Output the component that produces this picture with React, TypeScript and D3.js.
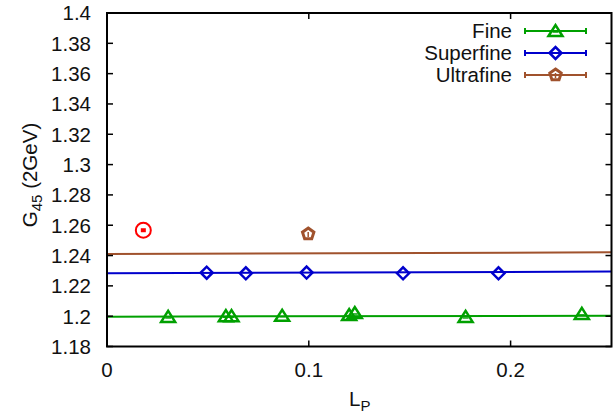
import React from "react";
import * as d3 from "d3";

const fineX = [0.0303, 0.0589, 0.0617, 0.0868, 0.12, 0.1228, 0.1777, 0.2353];
const fineY = [1.1995, 1.2, 1.2, 1.2003, 1.2008, 1.2021, 1.1995, 1.2015];
const superX = [0.0494, 0.0688, 0.0989, 0.1467, 0.194];
const superY = [1.2287, 1.2283, 1.2288, 1.2283, 1.2283];
const ultraX = [0.0997];
const ultraY = [1.2542];
const extrapX = [0.018];
const extrapY = [1.2567];
const fitFine = [1.1997, 1.2003];
const fitSuper = [1.2283, 1.2294];
const fitUltra = [1.2411, 1.2421];
const yTicks = [1.18, 1.2, 1.22, 1.24, 1.26, 1.28, 1.3, 1.32, 1.34, 1.36, 1.38, 1.4];
const xTicks = [0, 0.1, 0.2];
const legendLabels = ["Fine", "Superfine", "Ultrafine"];

const GREEN = "#00a000";
const BLUE = "#0000cc";
const BROWN = "#a0522d";
const RED = "#ff0000";

export default function App() {
  const W = 613, H = 415;
  const L = 107, R = 611.5, T = 13, B = 346.5;
  const x = d3.scaleLinear().domain([0, 0.25]).range([L, R]);
  const y = d3.scaleLinear().domain([1.18, 1.4]).range([B, T]);
  const font = "Liberation Sans, Arial, sans-serif";
  const fs = 20.5;

  const line = d3.line<[number, number]>().x(d => x(d[0])).y(d => y(d[1]));

  const tri = (cx: number, cy: number, c: string, k: string) => (
    <g key={k}>
      <path d={`M${cx - 7},${cy + 5}L${cx},${cy - 6}L${cx + 7},${cy + 5}Z`} fill="none" stroke={c} strokeWidth={2.5} />
      <line x1={cx - 3} x2={cx + 3} y1={cy + 1} y2={cy + 1} stroke={c} strokeWidth={1.5} />
    </g>
  );
  const dia = (cx: number, cy: number, c: string, k: string) => (
    <g key={k}>
      <path d={`M${cx - 6},${cy}L${cx},${cy - 6}L${cx + 6},${cy}L${cx},${cy + 6}Z`} fill="none" stroke={c} strokeWidth={2.5} />
    </g>
  );
  const pent = (cx: number, cy: number, c: string, k: string) => {
    const pts = d3.range(5).map(i => {
      const a = -Math.PI / 2 + (i * 2 * Math.PI) / 5;
      return [cx + 6 * Math.cos(a), cy + 6 * Math.sin(a)];
    });
    return (
      <g key={k}>
        <path d={"M" + pts.map(p => p.join(",")).join("L") + "Z"} fill="none" stroke={c} strokeWidth={3} />
        <line x1={cx} x2={cx} y1={cy - 2} y2={cy + 3} stroke={c} strokeWidth={1.5} />
      </g>
    );
  };

  const legendY = [31, 53, 75];
  const legendMarkers = [tri, dia, pent];
  const legendColors = [GREEN, BLUE, BROWN];

  return (
    <svg width={W} height={H} style={{ position: "absolute", left: 0, top: 0 }} fontFamily={font}>
      <rect width={W} height={H} fill="white" />
      <path d={line([[0, fitUltra[0]], [0.25, fitUltra[1]]])!} stroke={BROWN} strokeWidth={2} fill="none" />
      <path d={line([[0, fitSuper[0]], [0.25, fitSuper[1]]])!} stroke={BLUE} strokeWidth={2} fill="none" />
      <path d={line([[0, fitFine[0]], [0.25, fitFine[1]]])!} stroke={GREEN} strokeWidth={2} fill="none" />
      {fineX.map((v, i) => tri(x(v), y(fineY[i]), GREEN, "f" + i))}
      {superX.map((v, i) => dia(x(v), y(superY[i]), BLUE, "s" + i))}
      {ultraX.map((v, i) => pent(x(v), y(ultraY[i]), BROWN, "u" + i))}
      {extrapX.map((v, i) => (
        <g key={"e" + i}>
          <circle cx={x(v)} cy={y(extrapY[i])} r={7.5} fill="none" stroke={RED} strokeWidth={2} />
          <rect x={x(v) - 2.5} y={y(extrapY[i]) - 2} width={5} height={4} fill={RED} />
        </g>
      ))}
      <rect x={L} y={T} width={R - L} height={B - T} fill="none" stroke="black" strokeWidth={2} />
      {yTicks.map(t => (
        <g key={"y" + t}>
          <line x1={L} x2={L + 6} y1={y(t)} y2={y(t)} stroke="black" strokeWidth={1.5} />
          <line x1={R} x2={R - 6} y1={y(t)} y2={y(t)} stroke="black" strokeWidth={1.5} />
          <text x={91} y={y(t)} dy="0.36em" textAnchor="end" fontSize={fs} fill="#111">{String(t)}</text>
        </g>
      ))}
      {xTicks.map(t => (
        <g key={"x" + t}>
          <line x1={x(t)} x2={x(t)} y1={B} y2={B - 6} stroke="black" strokeWidth={1.5} />
          <line x1={x(t)} x2={x(t)} y1={T} y2={T + 6} stroke="black" strokeWidth={1.5} />
          <text x={x(t)} y={370} dy="0.36em" textAnchor="middle" fontSize={fs} fill="#111">{String(t)}</text>
        </g>
      ))}
      <text transform="translate(37,175) rotate(-90)" textAnchor="middle" fontSize={fs} fill="#111">
        G<tspan fontSize={15} dy={5}>45</tspan><tspan dy={-5}> (2GeV)</tspan>
      </text>
      <text x={349} y={406} fontSize={fs} fill="#111">
        L<tspan fontSize={15} dy={5}>P</tspan>
      </text>
      {legendLabels.map((lab, i) => (
        <g key={lab}>
          <text x={512} y={legendY[i]} dy="0.36em" textAnchor="end" fontSize={fs} fill="#111">{lab}</text>
          <line x1={525} x2={586} y1={legendY[i]} y2={legendY[i]} stroke={legendColors[i]} strokeWidth={2} />
          <line x1={525} x2={525} y1={legendY[i] - 3} y2={legendY[i] + 3} stroke={legendColors[i]} strokeWidth={2} />
          <line x1={586} x2={586} y1={legendY[i] - 3} y2={legendY[i] + 3} stroke={legendColors[i]} strokeWidth={2} />
          {legendMarkers[i](555.5, legendY[i], legendColors[i], "lm" + i)}
        </g>
      ))}
    </svg>
  );
}
